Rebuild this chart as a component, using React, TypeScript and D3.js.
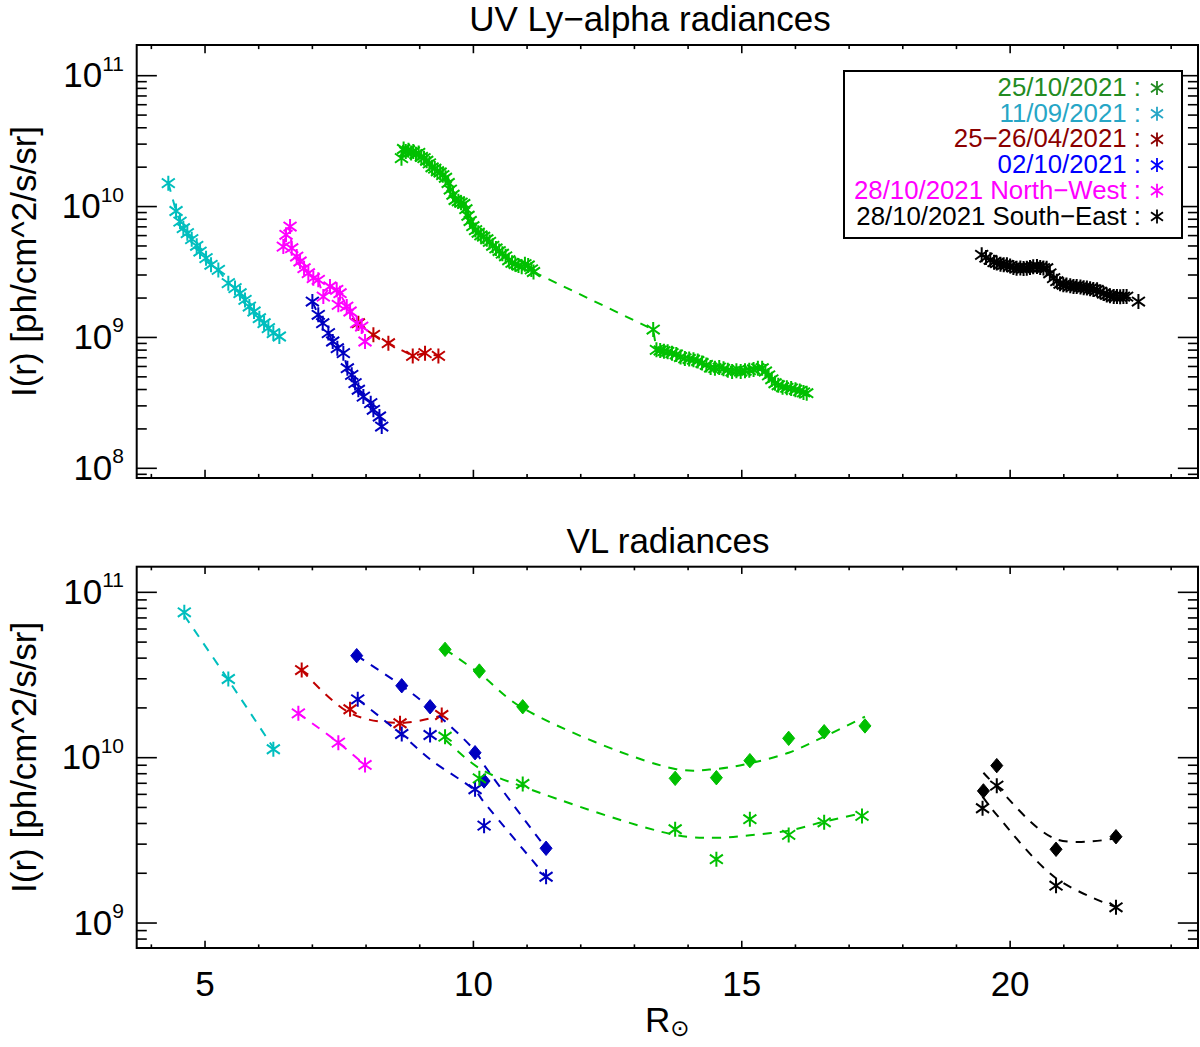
import { useEffect, useRef } from "react";
import * as d3 from "d3";

// radiance values are stored as log10 of I(r) [ph/cm^2/s/sr], R in solar radii

// ---- UV Ly-alpha panel ----
const uvGreen: [number, number][] = [
  [8.66, 10.37], [8.7, 10.44], [8.74, 10.42], [8.79, 10.43], [8.84, 10.41], [8.88, 10.42],
  [8.93, 10.4], [8.98, 10.41], [9.03, 10.38], [9.08, 10.37], [9.13, 10.35], [9.18, 10.33],
  [9.23, 10.3], [9.28, 10.29], [9.33, 10.27], [9.38, 10.26], [9.43, 10.24], [9.48, 10.22],
  [9.53, 10.18], [9.57, 10.13], [9.62, 10.09], [9.66, 10.05], [9.72, 10.04], [9.77, 10.03],
  [9.82, 10.02], [9.86, 9.98], [9.9, 9.93], [9.94, 9.89], [9.99, 9.85], [10.04, 9.82],
  [10.09, 9.8], [10.14, 9.78], [10.19, 9.77], [10.25, 9.75], [10.3, 9.73], [10.36, 9.7],
  [10.42, 9.68], [10.48, 9.66], [10.54, 9.64], [10.6, 9.62], [10.66, 9.59], [10.72, 9.57],
  [10.78, 9.56], [10.84, 9.55], [10.9, 9.54], [10.96, 9.56], [11.02, 9.55], [11.08, 9.52],
  [11.12, 9.5],
  [13.35, 9.06], [13.41, 8.905], [13.48, 8.9], [13.55, 8.895], [13.62, 8.89], [13.7, 8.88],
  [13.78, 8.87], [13.86, 8.85], [13.94, 8.84], [14.02, 8.835], [14.1, 8.83], [14.18, 8.82],
  [14.26, 8.805], [14.34, 8.79], [14.42, 8.77], [14.5, 8.765], [14.58, 8.77], [14.66, 8.76],
  [14.74, 8.75], [14.82, 8.74], [14.9, 8.745], [14.98, 8.74], [15.06, 8.745], [15.14, 8.75],
  [15.22, 8.755], [15.3, 8.765], [15.38, 8.765], [15.44, 8.74], [15.5, 8.71], [15.56, 8.68],
  [15.62, 8.65], [15.68, 8.635], [15.76, 8.62], [15.84, 8.615], [15.92, 8.61], [16.0, 8.6],
  [16.08, 8.59], [16.15, 8.58], [16.21, 8.574],
];
const uvCyan: [number, number][] = [
  [4.316, 10.179], [4.46, 9.966], [4.534, 9.885], [4.596, 9.835], [4.67, 9.797], [4.752, 9.751],
  [4.845, 9.7], [4.907, 9.656], [5.019, 9.606], [5.112, 9.555], [5.248, 9.516], [5.434, 9.415],
  [5.559, 9.377], [5.652, 9.338], [5.745, 9.287], [5.826, 9.236], [5.913, 9.198], [6.012, 9.147],
  [6.1, 9.109], [6.18, 9.071], [6.273, 9.033], [6.385, 9.007],
];
const uvRed: [number, number][] = [
  [7.857, 9.109], [8.137, 9.02], [8.416, 8.956], [8.87, 8.859], [9.099, 8.88], [9.348, 8.859],
];
const uvBlue: [number, number][] = [
  [7.0, 9.274], [7.11, 9.173], [7.193, 9.109], [7.298, 9.033], [7.379, 8.969], [7.465, 8.918],
  [7.577, 8.88], [7.652, 8.765], [7.733, 8.714], [7.795, 8.651], [7.857, 8.6], [7.95, 8.548],
  [8.087, 8.498], [8.137, 8.447], [8.249, 8.396], [8.292, 8.319],
];
const uvMagenta: [number, number][] = [
  [6.459, 9.694], [6.509, 9.784], [6.584, 9.847], [6.615, 9.682], [6.708, 9.618], [6.77, 9.58],
  [6.845, 9.529], [6.925, 9.491], [7.018, 9.453], [7.11, 9.44], [7.204, 9.312], [7.328, 9.389],
  [7.453, 9.364], [7.484, 9.249], [7.515, 9.338], [7.64, 9.236], [7.702, 9.198], [7.826, 9.109],
  [7.919, 9.083], [7.981, 8.969],
];
const uvBlack: [number, number][] = [
  [19.47, 9.631], [19.55, 9.61], [19.63, 9.593], [19.7, 9.575], [19.75, 9.568], [19.82, 9.56],
  [19.88, 9.555], [19.94, 9.555], [20.0, 9.545], [20.06, 9.535], [20.12, 9.529], [20.19, 9.53],
  [20.25, 9.527], [20.31, 9.529], [20.37, 9.535], [20.43, 9.54], [20.5, 9.542], [20.56, 9.535],
  [20.62, 9.53], [20.68, 9.529], [20.74, 9.49], [20.81, 9.453], [20.87, 9.43], [20.93, 9.41],
  [20.99, 9.402], [21.05, 9.4], [21.12, 9.395], [21.18, 9.39], [21.24, 9.389], [21.31, 9.385],
  [21.37, 9.38], [21.43, 9.377], [21.49, 9.372], [21.55, 9.366], [21.62, 9.364], [21.68, 9.35],
  [21.74, 9.335], [21.8, 9.325], [21.86, 9.318], [21.93, 9.313], [21.99, 9.312], [22.05, 9.31],
  [22.11, 9.312], [22.17, 9.312], [22.39, 9.274],
];

// ---- VL panel: points and the dashed fit read at the same R ----
const vlCyanStar: [number, number][] = [[4.614, 10.879], [5.434, 10.476], [6.273, 10.051]];
const vlCyanFit = [10.86, 10.47, 10.06];
const vlMagentaStar: [number, number][] = [[6.739, 10.268], [7.484, 10.091], [7.981, 9.956]];
const vlMagentaFit = [10.268, 10.091, 9.956];
const vlRedStar: [number, number][] = [[6.801, 10.53], [7.702, 10.293], [8.633, 10.208], [9.41, 10.258]];
const vlRedFit = [10.53, 10.27, 10.21, 10.255];
const vlBlueDia: [number, number][] = [
  [7.826, 10.617], [8.665, 10.435], [9.193, 10.308], [10.031, 10.03], [10.199, 9.859], [11.354, 9.452],
];
const vlBlueDiaFit = [10.617, 10.435, 10.3, 10.04, 9.955, 9.452];
const vlBlueStar: [number, number][] = [
  [7.845, 10.353], [8.665, 10.143], [9.193, 10.137], [10.031, 9.809], [10.199, 9.589], [11.354, 9.28],
];
const vlBlueStarFit = [10.353, 10.14, 9.99, 9.8, 9.73, 9.28];
const vlGreenDia: [number, number][] = [
  [9.472, 10.655], [10.111, 10.524], [10.919, 10.308], [13.759, 9.875], [14.527, 9.879],
  [15.151, 9.982], [15.874, 10.117], [16.535, 10.157], [17.295, 10.192],
];
const vlGreenDiaFit = [10.655, 10.51, 10.3, 9.932, 9.932, 9.966, 10.03, 10.127, 10.248];
const vlGreenStar: [number, number][] = [
  [9.472, 10.127], [10.111, 9.875], [10.919, 9.841], [13.759, 9.567], [14.527, 9.386],
  [15.151, 9.628], [15.874, 9.533], [16.535, 9.609], [17.24, 9.648],
];
const vlGreenStarFit = [10.11, 9.936, 9.825, 9.533, 9.516, 9.531, 9.559, 9.613, 9.664];
const vlBlackDia: [number, number][] = [[19.502, 9.799], [19.751, 9.952], [20.855, 9.446], [21.972, 9.522]];
const vlBlackDiaFit = [9.909, 9.825, 9.507, 9.513];
const vlBlackStar: [number, number][] = [[19.486, 9.694], [19.751, 9.831], [20.855, 9.226], [21.972, 9.095]];
const vlBlackStarFit = [9.764, 9.654, 9.271, 9.095];

// ---- legend / ticks ----
const legendLabels = [
  "25/10/2021 :", "11/09/2021 :", "25−26/04/2021 :", "02/10/2021 :",
  "28/10/2021 North−West :", "28/10/2021 South−East :",
];
const legendColors = ["#228B22", "#26A6C6", "#8B0000", "#0000FF", "#FF00FF", "#000000"];
const xTickLabels = [5, 10, 15, 20];
const yTopExps = [8, 9, 10, 11];
const yBotExps = [9, 10, 11];

const GREEN = "#00C000", CYAN = "#00BEBE", RED = "#C00000", BLUE = "#0000C0", MAG = "#FF00FF", BLK = "#000000";
const FONT = "'Liberation Sans', Arial, Helvetica, sans-serif";

const starPath = "M0,-7.5V7.5M-6.5,-4.6L6.5,4.6M-6.5,4.6L6.5,-4.6";
const legendStar = "M0,-7V7M-6,-4.3L6,4.3M-6,4.3L6,-4.3";
const diaPath = "M0,-7.2L6,0L0,7.2L-6,0Z";

const App = () => {
  const svgRef = useRef<SVGSVGElement | null>(null);

  useEffect(() => {
    const svg = d3.select(svgRef.current);
    svg.selectAll("*").remove();

    const X0 = 136.7, X1 = 1198;
    const x = d3.scaleLinear().domain([3.727, 23.5]).range([X0, X1]);
    const yTop = d3.scaleLog().domain([10 ** 7.926, 10 ** 11.2345]).range([478, 45]);
    const yBot = d3.scaleLog().domain([10 ** 8.849, 10 ** 11.155]).range([948, 566.7]);

    // 축 프레임 + 눈금
    const frame = (y: d3.ScaleLogarithmic<number, number>, exps: number[], labelX: boolean) => {
      const [b, t] = y.range();
      const g = svg.append("g");
      const xLen = 0.019 * (b - t);
      const yLen = 0.019 * (X1 - X0);
      x.ticks(20).forEach((v) => {
        const len = v % 5 === 0 ? xLen : xLen / 2;
        const px = x(v);
        g.append("line").attr("x1", px).attr("x2", px).attr("y1", b).attr("y2", b - len);
        g.append("line").attr("x1", px).attr("x2", px).attr("y1", t).attr("y2", t + len);
      });
      y.ticks().forEach((v) => {
        const major = Math.abs(Math.log10(v) - Math.round(Math.log10(v))) < 1e-6;
        const len = major ? yLen : yLen / 2;
        const py = y(v);
        g.append("line").attr("x1", X0).attr("x2", X0 + len).attr("y1", py).attr("y2", py);
        g.append("line").attr("x1", X1).attr("x2", X1 - len).attr("y1", py).attr("y2", py);
      });
      g.selectAll("line").attr("stroke", "#000").attr("stroke-width", 1.6);
      g.append("rect")
        .attr("x", X0).attr("y", t).attr("width", X1 - X0).attr("height", b - t)
        .attr("fill", "none").attr("stroke", "#000").attr("stroke-width", 2);

      exps.forEach((e) => {
        const tx = g.append("text")
          .attr("x", 124).attr("y", y(10 ** e) + 11.5)
          .attr("text-anchor", "end").attr("font-family", FONT).attr("font-size", 35);
        tx.append("tspan").text("10");
        tx.append("tspan").attr("dy", -16.5).attr("font-size", 21).text(String(e));
      });

      if (labelX) {
        xTickLabels.forEach((v) => {
          g.append("text").attr("x", x(v)).attr("y", b + 47.5)
            .attr("text-anchor", "middle").attr("font-family", FONT).attr("font-size", 35)
            .text(String(v));
        });
      }

      g.append("text")
        .attr("transform", `translate(36, ${(b + t) / 2}) rotate(-90)`)
        .attr("text-anchor", "middle").attr("font-family", FONT).attr("font-size", 35)
        .text("I(r) [ph/cm^2/s/sr]");
    };

    frame(yTop, yTopExps, false);
    frame(yBot, yBotExps, true);

    // 제목
    svg.append("text").attr("x", 650).attr("y", 31).attr("text-anchor", "middle")
      .attr("font-family", FONT).attr("font-size", 35).text("UV Ly−alpha radiances");
    svg.append("text").attr("x", 668).attr("y", 553).attr("text-anchor", "middle")
      .attr("font-family", FONT).attr("font-size", 35).text("VL radiances");

    const xl = svg.append("text").attr("x", (X0 + X1) / 2).attr("y", 1031.5)
      .attr("text-anchor", "middle").attr("font-family", FONT).attr("font-size", 35);
    xl.append("tspan").text("R");
    xl.append("tspan").attr("dy", 4).attr("font-size", 23).attr("font-family", "'DejaVu Sans', sans-serif").text("⊙");

    const dash = "9,8";

    // UV series: dashed line joining points + asterisks
    const uvSeries: [[number, number][], string][] = [
      [uvGreen, GREEN], [uvCyan, CYAN], [uvRed, RED], [uvBlue, BLUE], [uvMagenta, MAG], [uvBlack, BLK],
    ];
    const uvLine = d3.line<[number, number]>().x((d) => x(d[0])).y((d) => yTop(10 ** d[1]));
    uvSeries.forEach(([pts, col]) => {
      svg.append("path").attr("d", uvLine(pts)).attr("fill", "none")
        .attr("stroke", col).attr("stroke-width", 2).attr("stroke-dasharray", dash);
      svg.append("g").selectAll("path").data(pts).enter().append("path")
        .attr("transform", (d) => `translate(${x(d[0])},${yTop(10 ** d[1])})`)
        .attr("d", starPath).attr("fill", "none").attr("stroke", col).attr("stroke-width", 2);
    });

    // VL series: smooth dashed fit + markers
    const vlSeries: [[number, number][], number[], string, string][] = [
      [vlCyanStar, vlCyanFit, CYAN, "star"],
      [vlMagentaStar, vlMagentaFit, MAG, "star"],
      [vlRedStar, vlRedFit, RED, "star"],
      [vlBlueDia, vlBlueDiaFit, BLUE, "dia"],
      [vlBlueStar, vlBlueStarFit, BLUE, "star"],
      [vlGreenDia, vlGreenDiaFit, GREEN, "dia"],
      [vlGreenStar, vlGreenStarFit, GREEN, "star"],
      [vlBlackDia, vlBlackDiaFit, BLK, "dia"],
      [vlBlackStar, vlBlackStarFit, BLK, "star"],
    ];
    const fitLine = d3.line<[number, number]>()
      .x((d) => x(d[0])).y((d) => yBot(10 ** d[1])).curve(d3.curveCatmullRom.alpha(0.5));
    vlSeries.forEach(([pts, fit, col, kind]) => {
      const fp = pts.map((p, i) => [p[0], fit[i]] as [number, number]);
      svg.append("path").attr("d", fitLine(fp)).attr("fill", "none")
        .attr("stroke", col).attr("stroke-width", 2).attr("stroke-dasharray", dash);
      const m = svg.append("g").selectAll("path").data(pts).enter().append("path")
        .attr("transform", (d) => `translate(${x(d[0])},${yBot(10 ** d[1])})`);
      if (kind === "star") {
        m.attr("d", starPath).attr("fill", "none").attr("stroke", col).attr("stroke-width", 2);
      } else {
        m.attr("d", diaPath).attr("fill", col).attr("stroke", col).attr("stroke-width", 1);
      }
    });

    // 범례
    const lg = svg.append("g");
    lg.append("rect").attr("x", 844).attr("y", 71).attr("width", 338).attr("height", 167)
      .attr("fill", "#fff").attr("stroke", "#000").attr("stroke-width", 2);
    legendLabels.forEach((lab, i) => {
      const by = 96 + i * 25.7;
      lg.append("text").attr("x", 1141).attr("y", by).attr("text-anchor", "end")
        .attr("font-family", FONT).attr("font-size", 25.8).attr("fill", legendColors[i]).text(lab);
      lg.append("path").attr("transform", `translate(1157,${by - 8})`).attr("d", legendStar)
        .attr("fill", "none").attr("stroke", legendColors[i]).attr("stroke-width", 1.8);
    });
  }, []);

  return (
    <div style={{ position: "absolute", left: 0, top: 0 }}>
      <svg ref={svgRef} width={1200} height={1047} style={{ display: "block", background: "#fff" }}></svg>
    </div>
  );
};

export default App;
